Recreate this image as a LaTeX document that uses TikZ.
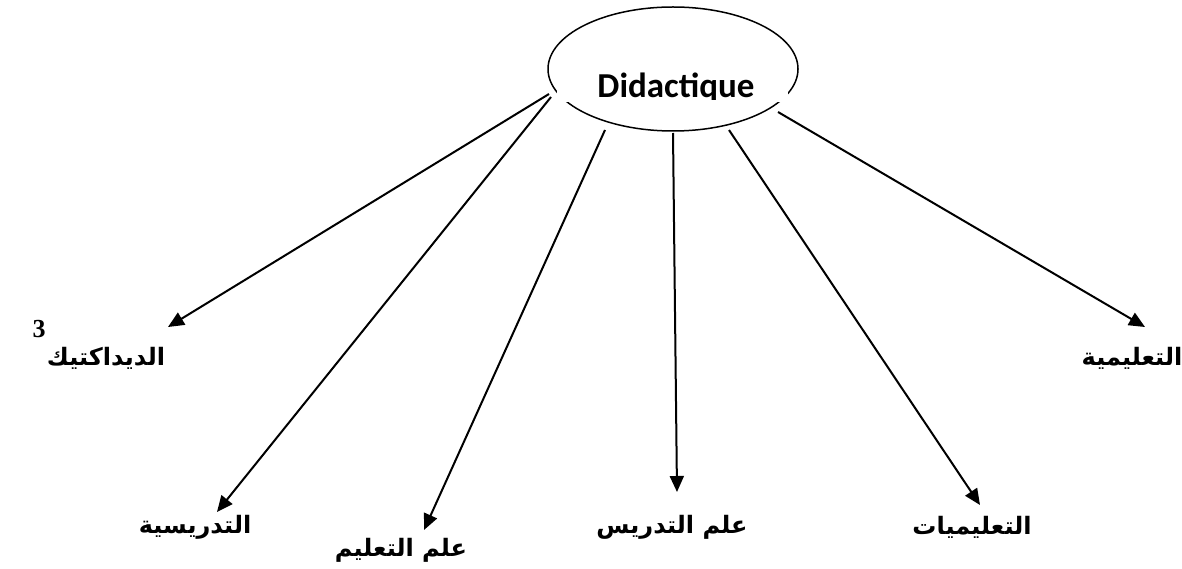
\documentclass[tikz,border=0pt]{standalone}
\usepackage{fontspec}
\setmainfont{Liberation Serif}
\newfontfamily\arabicfont[Script=Arabic]{DejaVu Sans}
\newfontfamily\calfont{Carlito}
\newfontfamily\numfont{Liberation Serif Bold}
\TeXXeTstate=1
\usetikzlibrary{arrows.meta,shapes.geometric}
\tikzset{
  conn/.style={line width=2pt,-{Triangle[length=16pt,width=14pt]}},
  arlabel/.style={font=\arabicfont\bfseries\fontsize{24}{27}\selectfont,inner sep=0pt},
}
\begin{document}
\begin{tikzpicture}[x=1pt,y=-1pt]
\useasboundingbox (0,0) rectangle (1182,569);
% central ellipse
\node[draw,ellipse,line width=1.5pt,minimum width=250,minimum height=124,inner sep=0pt] (c) at (673,69) {};
\fill[white] (557,84) rectangle (788,102);
\begin{scope}
\clip (540,40) rectangle (800,100);
\node[font=\calfont\bfseries\fontsize{35}{40}\selectfont,inner sep=0pt,anchor=base] (ct) at (676,98) {Didactique};
\end{scope}
% connector start points on the ellipse
\coordinate (s1) at (549,94);
\coordinate (s2) at (551,97);
\coordinate (s3) at (605,130);
\coordinate (s4) at (673,133);
\coordinate (s5) at (729,130);
\coordinate (s6) at (778,112);
% labels
\node[arlabel] (l1) at (106,358) {\beginR الديداكتيك\endR};
\node[font=\numfont\fontsize{26}{30}\selectfont,inner sep=0pt] (n3) at (39,329) {3};
\node[arlabel] (l2) at (195,527) {\beginR التدريسية\endR};
\node[arlabel] (l3) at (401,550) {\beginR علم التعليم\endR};
\node[arlabel] (l4) at (672,527) {\beginR علم التدريس\endR};
\node[arlabel] (l5) at (972,527) {\beginR التعليميات\endR};
\node[arlabel] (l6) at (1132,358) {\beginR التعليمية\endR};
% arrow tips
\coordinate (t1) at (168,327);
\coordinate (t2) at (217,512);
\coordinate (t3) at (424,530);
\coordinate (t4) at (677,492);
\coordinate (t5) at (980,505);
\coordinate (t6) at (1145,327);
\draw[conn] (s1) -- (t1);
\draw[conn] (s2) -- (t2);
\draw[conn] (s3) -- (t3);
\draw[conn] (s4) -- (t4);
\draw[conn] (s5) -- (t5);
\draw[conn] (s6) -- (t6);
\end{tikzpicture}
\end{document}
